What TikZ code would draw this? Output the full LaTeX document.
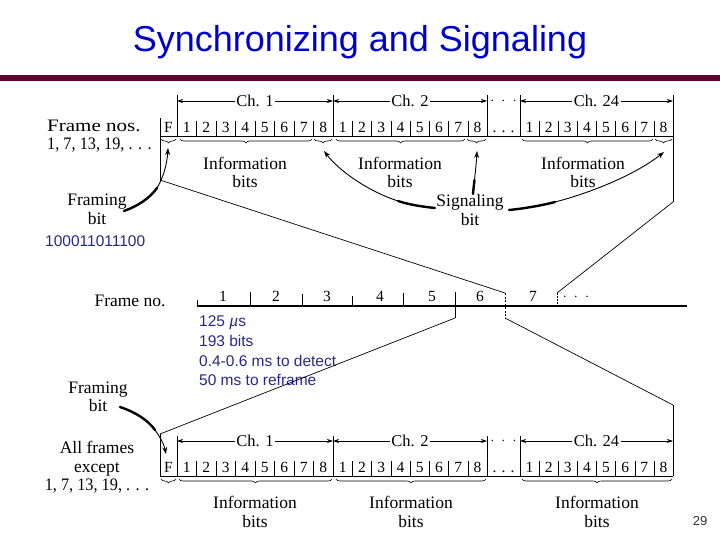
\documentclass[tikz,border=0pt]{standalone}
\usepackage{fontspec}
\setmainfont{Liberation Serif}
\newfontfamily\arialf{Liberation Sans}
\usetikzlibrary{arrows.meta,decorations.pathreplacing}
\definecolor{titleblue}{RGB}{0,0,204}
\definecolor{barmaroon}{RGB}{96,0,48}
\definecolor{noteblue}{RGB}{40,40,140}
\tikzset{
  lbl/.style={font=\fontsize{17.5}{18.5}\selectfont, inner sep=0pt, align=center},
  dig/.style={font=\fontsize{15.5}{16}\selectfont, inner sep=0pt, text height=10.5pt, text depth=0pt},
  mdots/.style={font=\fontsize{15.5}{16}\selectfont, inner sep=0pt},
  chlbl/.style={font=\fontsize{16.5}{17}\selectfont, fill=white, inner sep=1.5pt},
  note/.style={font=\arialf\fontsize{15.5}{18}\selectfont, text=noteblue, anchor=west, inner sep=0pt},
  brc/.style={decorate, decoration={brace, mirror, amplitude=4pt}, line width=0.6pt},
  ln/.style={line width=0.7pt},
  tipa/.style={-{Stealth[length=6pt,width=4pt]}},
  thickpart/.style={line width=2.4pt, line cap=round},
  thinpart/.style={line width=0.9pt, -{Stealth[length=7pt,width=5pt]}}
}
% #1 prefix, #2 row line y, #3 channel arrow y, #4 tick top y
\newcommand\framerowx[4]{%
  \draw[ln] (160,#2) -- (673,#2);
  \foreach \x/\n in {177/k1,333/k2,487/k3,520/k4,673/k5}{
    \coordinate (#1\n) at (\x,#3);
    \draw[line width=0.9pt] (\x,#4) -- (\x,#2);
  }
  \node[dig] (#1F) at (168.5,#2-9) {F};
  \foreach \a/\b/\c in {177/333/a,333/487/b,520/673/c}{
    \foreach \i in {1,...,8}{
      \pgfmathsetmacro\xc{\a+(\b-\a)*(\i-0.5)/8}
      \node[dig] (#1\c\i) at (\xc,#2-9) {\i};
      \ifnum\i<8
        \pgfmathsetmacro\xs{\a+(\b-\a)*\i/8}
        \draw[line width=0.5pt] (\xs,#2-15) -- (\xs,#2);
      \fi
    }
  }
  \node[dig] (#1dots) at (503.5,#2-9) {. . .};
  \node[chlbl] (#1ch1) at (255,#3) {Ch. 1};
  \node[chlbl] (#1ch2) at (410,#3) {Ch. 2};
  \node[chlbl] (#1ch24) at (596.5,#3) {Ch. 24};
  \node[mdots] (#1cdots) at (503.5,#3) {$\cdot\;\cdot\;\cdot$};
  \draw[ln,tipa] (#1ch1.west) -- (#1k1);
  \draw[ln,tipa] (#1ch1.east) -- (#1k2);
  \draw[ln,tipa] (#1ch2.west) -- (#1k2);
  \draw[ln,tipa] (#1ch2.east) -- (#1k3);
  \draw[ln,tipa] (#1ch24.west) -- (#1k4);
  \draw[ln,tipa] (#1ch24.east) -- (#1k5);
}
\begin{document}
\begin{tikzpicture}[x=1pt,y=-1pt]
\useasboundingbox (0,0) rectangle (720,540);
% title
\node[font=\arialf\fontsize{36}{40}\selectfont, text=titleblue, inner sep=0pt] (title) at (360,42) {Synchronizing and Signaling};
\fill[barmaroon] (0,75) rectangle (720,81);

% ---------- top frame ----------
\framerowx{t}{136}{101}{95}
\coordinate (tl) at (160,180);
\coordinate (tr) at (673,202);
\draw[ln] (160,118) -- (tl);
\draw[line width=0.9pt] (673,95) -- (tr);
\draw[brc] (161,139) -- (176,139);
\draw[brc] (180,139) -- (312,139);
\draw[brc] (314,139) -- (332,139);
\draw[brc] (336,139) -- (465,139);
\draw[brc] (467,139) -- (486,139);
\draw[brc] (522,139) -- (653,139);
\draw[brc] (655,139) -- (672,139);
\node[lbl, anchor=west, align=left] (fnos) at (47,136) {\scalebox{1.2}[1]{Frame nos.}\\\scalebox{0.93}[1]{1, 7, 13, 19, . . .}};
\node[lbl] (ti1) at (245,172.5) {Information\\bits};
\node[lbl] (ti2) at (400,172.5) {Information\\bits};
\node[lbl] (ti3) at (583,172.5) {Information\\bits};
\node[lbl] (tfb) at (97,209.5) {Framing\\bit};
\node[lbl] (tsb) at (470,210) {Signaling\\bit};
% framing bit arrow (top)
\draw[thickpart] (124,211) .. controls (138,206) and (150,198) .. (157,188);
\draw[thinpart] (157,188) .. controls (163,178) and (167,165) .. (168,148);
% signaling arrows
\draw[thickpart] (435,208) .. controls (425,207) and (410,205) .. (398,201);
\draw[thinpart] (398,201) .. controls (370,192) and (340,172) .. (324,151);
\draw[thickpart] (473,194) .. controls (473.5,188) and (474,184) .. (474.5,180);
\draw[thinpart] (474.5,180) .. controls (475,174) and (476,168) .. (477,151);
\draw[thickpart] (509,210) .. controls (520,209) and (540,206) .. (555,202);
\draw[thinpart] (555,202) .. controls (590,193) and (635,175) .. (664,152);

% ---------- middle ----------
\node[note] (bits) at (45,241) {100011011100};
\node[lbl] (fno) at (130,301) {Frame no.};
\draw[line width=1.3pt] (197,306) -- (687,306);
\foreach \x/\ya in {197/300,250/292,302/294,352/296,403/293}{
  \draw[line width=0.8pt] (\x,\ya) -- (\x,306);
}
\coordinate (m1) at (505,293);
\coordinate (m2) at (557,293);
\coordinate (m3) at (455,318);
\coordinate (m4) at (505,318);
\draw[line width=0.8pt] (455,292) -- (m3);
\draw[line width=0.8pt, dash pattern=on 2pt off 1.5pt] (m1) -- (m4);
\draw[line width=0.8pt, dash pattern=on 2pt off 1pt] (m2) -- (557,306);
\foreach \x/\k in {223/1,276/2,327/3,380/4,432/5,480/6,533/7}{
  \node[dig] (n\k) at (\x,296) {\k};
}
\node[mdots] (ndots) at (576,297) {$\cdot\;\cdot\;\cdot$};
\node[note] (nt1) at (199,323) {125 \textit{µ}s};
\node[note] (nt2) at (199,341) {193 bits};
\node[note] (nt3) at (199,361) {0.4-0.6 ms to detect};
\node[note] (nt4) at (199,380) {50 ms to reframe};

% ---------- bottom frame ----------
\framerowx{b}{476}{441}{436}
\coordinate (bl) at (160,434);
\coordinate (br) at (673,405);
\draw[ln] (bl) -- (160,476);
\draw[line width=0.9pt] (br) -- (673,476);
\draw[brc] (161,479) -- (176,479);
\draw[brc] (179,479) -- (332,479);
\draw[brc] (336,479) -- (486,479);
\draw[brc] (522,479) -- (672,479);
\node[lbl] (bfb) at (98,397) {Framing\\bit};
\node[lbl] (bafe) at (97,467.5) {All frames\\except\\\scalebox{0.93}[1]{1, 7, 13, 19, . . .}};
\node[lbl] (bi1) at (255,512) {Information\\bits};
\node[lbl] (bi2) at (411,512) {Information\\bits};
\node[lbl] (bi3) at (597,512) {Information\\bits};
\draw[thickpart] (120,407) .. controls (135,412) and (148,420) .. (155,430);
\draw[thinpart] (155,430) .. controls (160,437) and (164,444) .. (166,454);

% expansion lines
\draw[ln] (tl) -- (m1);
\draw[ln] (tr) -- (m2);
\draw[ln] (m3) -- (bl);
\draw[ln] (m4) -- (br);

\node[font=\arialf\fontsize{13}{15}\selectfont, text=black!80, inner sep=0pt] (pg) at (700,521) {29};
\end{tikzpicture}
\end{document}
